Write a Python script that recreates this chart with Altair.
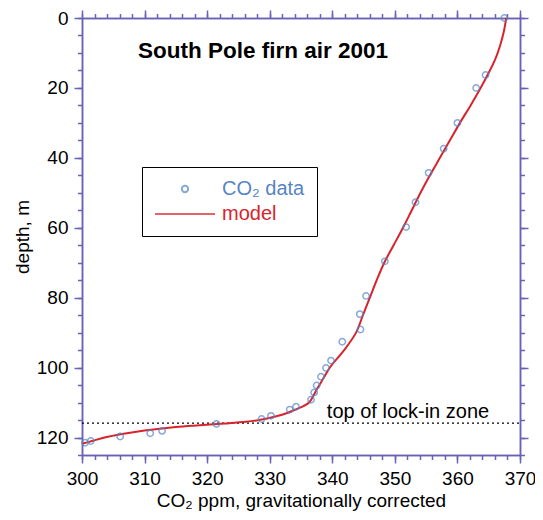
import altair as alt
import pandas as pd

# ---- data ----
co2_ppm = [367.5, 364.5, 363.0, 360.0, 357.8, 355.4, 353.3, 351.8, 348.4, 345.4,
           344.4, 344.5, 341.6, 339.8, 339.0, 338.2, 337.5, 337.1, 336.6, 334.2,
           333.2, 330.2, 328.7, 321.5, 312.8, 310.9, 306.1, 301.4, 300.5]
co2_depth = [0.0, 16.3, 20.0, 30.0, 37.4, 44.3, 52.7, 59.8, 69.6, 79.5,
             84.7, 89.1, 92.6, 98.0, 100.1, 102.6, 105.1, 107.1, 109.2, 111.2,
             112.0, 113.8, 114.7, 116.1, 118.1, 118.8, 119.7, 121.0, 121.5]

model_depth = [0, 4, 8, 12, 16, 20, 25, 30, 35, 40, 45, 50, 55, 60, 65, 70, 75, 80,
               85, 90, 95, 100, 103, 106, 108, 110, 111, 112, 113, 114, 115, 115.5,
               116, 116.5, 117, 118, 119, 120, 121, 121.8]
model_ppm = [367.8, 367.4, 366.8, 366.0, 364.9, 363.7, 362.1, 360.4, 358.8, 357.2,
             355.6, 354.1, 352.7, 351.3, 349.8, 348.3, 347.1, 346.0, 344.9, 343.8,
             341.9, 339.6, 338.6, 337.6, 337.0, 336.3, 335.4, 334.1, 332.8, 330.9,
             328.3, 326.2, 322.8, 318.8, 315.0, 310.0, 306.4, 303.6, 301.6, 300.0]

series_names = ["CO\u2082 data", "model"]
lock_in_depth = [115.9]
lock_label = ["top of lock-in zone"]
lock_label_x = [352.1]

x_domain = [300, 370]
y_domain = [0, 125]
x_major = list(range(300, 371, 10))
x_minor = list(range(300, 371, 2))
y_major = list(range(0, 121, 20))
y_minor = list(range(0, 126, 5))

AXIS_COLOR = "#6a62b4"
BLUE = "#5585c4"
RED = "#d9232c"
FONT = "Liberation Sans"

pts = pd.DataFrame({"ppm": co2_ppm, "depth": co2_depth, "series": series_names[0]})
mdl = pd.DataFrame({"ppm": model_ppm, "depth": model_depth, "series": series_names[1]})
rule_df = pd.DataFrame({"depth": lock_in_depth, "x0": [x_domain[0]], "x1": [x_domain[1]]})
txt_df = pd.DataFrame({"ppm": lock_label_x, "depth": lock_in_depth, "label": lock_label})

xs = alt.Scale(domain=x_domain, nice=False, zero=False)
ys = alt.Scale(domain=y_domain, nice=False, zero=False, reverse=True)


def ax(orient, values, tick, labels, title=None, title_pad=8):
    kw = dict(orient=orient, values=values, tickSize=tick, labels=labels,
              domainColor=AXIS_COLOR, tickColor=AXIS_COLOR, domainWidth=1.5,
              tickWidth=1.5, grid=False, labelFont=FONT, labelFontSize=19,
              labelColor="black", labelPadding=6, labelFlush=False,
              labelOverlap=False)
    kw["title"] = title if title else None
    if title:
        kw.update(titleFont=FONT, titleFontSize=19, titleFontWeight="normal",
                  titleColor="black", titlePadding=title_pad)
    return alt.Axis(**kw)


legend = alt.Legend(
    title=None, orient="none", legendX=60, legendY=149, direction="vertical",
    fillColor="white", strokeColor="black", padding=12,
    labelFont=FONT, labelFontSize=20, labelOffset=6,
    labelColor=alt.ExprRef(expr=f"datum.label === 'model' ? '{RED}' : '{BLUE}'"),
    symbolStrokeWidth=2, rowPadding=5, clipHeight=20,
)

color_enc = alt.Color("series:N", scale=alt.Scale(domain=series_names, range=[BLUE, RED]),
                      legend=legend)
shape_enc = alt.Shape("series:N", scale=alt.Scale(domain=series_names, range=["circle", "stroke"]),
                      legend=legend)
size_enc = alt.Size("series:N", scale=alt.Scale(domain=series_names, range=[40, 3600]),
                    legend=legend)

points = alt.Chart(pts).mark_point(filled=False, strokeWidth=1.5).encode(
    x=alt.X("ppm:Q", scale=xs,
            axis=ax("bottom", x_major, 8, True, "CO\u2082 ppm, gravitationally corrected", 3)),
    y=alt.Y("depth:Q", scale=ys, axis=ax("left", y_major, 8, True, "depth, m", 4)),
    color=color_enc, shape=shape_enc, size=size_enc,
)

line = alt.Chart(mdl).mark_line(strokeWidth=2, interpolate="catmull-rom").encode(
    x=alt.X("ppm:Q", scale=xs, axis=ax("bottom", x_minor, 4.5, False)),
    y=alt.Y("depth:Q", scale=ys, axis=ax("left", y_minor, 4.5, False)),
    order=alt.Order("depth:Q"),
    color=color_enc,
)

rule = alt.Chart(rule_df).mark_rule(color="black", strokeDash=[2, 3], strokeWidth=1.3).encode(
    x=alt.X("x0:Q", scale=xs, axis=ax("top", x_major, 8, False)),
    x2="x1:Q",
    y=alt.Y("depth:Q", scale=ys, axis=ax("right", y_major, 8, False)),
)

text = alt.Chart(txt_df).mark_text(font=FONT, fontSize=20, color="black", align="center",
                                   baseline="alphabetic", dy=-5).encode(
    x=alt.X("ppm:Q", scale=xs, axis=ax("top", x_minor, 4.5, False)),
    y=alt.Y("depth:Q", scale=ys, axis=ax("right", y_minor, 4.5, False)),
    text="label:N",
)

chart = alt.layer(rule, line, points, text).resolve_axis(
    x="independent", y="independent"
).properties(
    width=438, height=437,
    title=alt.TitleParams("South Pole firn air 2001", anchor="start", frame="group",
                          dx=56, dy=33, offset=-38, baseline="alphabetic", font=FONT,
                          fontSize=22.5, fontWeight="bold", color="black"),
    autosize=alt.AutoSizeParams(type="none"),
    padding={"left": 74, "top": 10, "right": 15, "bottom": 61},
).configure_view(stroke=None).configure(background="white")

chart.save("out.html", embed_options={"renderer": "svg", "actions": False})
